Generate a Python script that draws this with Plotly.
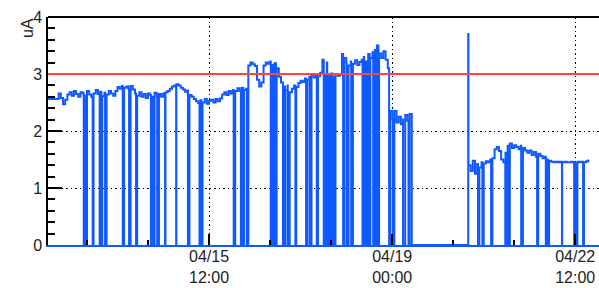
import pandas as pd
import plotly.graph_objects as go

# ---------------- data ----------------
BASE = "2024-04-12 00:00"          # hours below are counted from this time

# hourly current readings, hours 10 .. 258
sample_hours = list(range(10, 259))
current_uA = [
    2.56, 2.56, 2.56, 2.56, 2.56, 2.66, 2.58, 2.47, 2.55, 2.64,   # 10-19
    2.68, 2.62, 2.70, 2.65, 2.60, 2.68, 2.66, 2.62, 2.70, 2.64,   # 20-29
    2.59, 2.66, 2.72, 2.65, 2.69, 2.61, 2.67, 2.64, 2.70, 2.66,   # 30-39
    2.62, 2.70, 2.77, 2.74, 2.79, 2.76, 2.78, 2.74, 2.79, 2.73,   # 40-49
    2.66, 2.62, 2.68, 2.60, 2.65, 2.58, 2.66, 2.63, 2.60, 2.67,   # 50-59
    2.62, 2.65, 2.60, 2.66, 2.68, 2.70, 2.74, 2.78, 2.80, 2.82,   # 60-69
    2.80, 2.76, 2.73, 2.69, 2.71, 2.63, 2.60, 2.56, 2.52, 2.49,   # 70-79
    2.54, 2.50, 2.56, 2.48, 2.53, 2.55, 2.50, 2.56, 2.52, 2.57,   # 80-89
    2.64, 2.68, 2.63, 2.70, 2.66, 2.72, 2.70, 2.75, 2.70, 2.76,   # 90-99
    2.72, 2.74, 3.15, 3.20, 3.17, 3.14, 2.90, 2.78, 2.85, 3.15,   # 100-109
    3.20, 3.18, 3.22, 3.16, 3.19, 3.10, 2.95, 2.85, 2.78, 2.72,   # 110-119
    2.80, 2.68, 2.74, 2.80, 2.77, 2.84, 2.88, 2.86, 2.92, 2.90,   # 120-129
    2.95, 2.99, 2.94, 3.00, 2.96, 3.02, 3.25, 2.98, 3.20, 2.97,   # 130-139
    3.01, 2.95, 3.00, 2.97, 2.99, 3.35, 3.28, 3.20, 3.15, 3.22,   # 140-149
    3.18, 3.24, 3.16, 3.21, 3.25, 3.30, 3.22, 3.35, 3.28, 3.38,   # 150-159
    3.42, 3.50, 3.36, 3.28, 3.40, 3.25, 3.10, 2.35, 2.20, 2.35,   # 160-169
    2.15, 2.25, 2.12, 2.22, 2.28, 2.18, 2.30, 0.00, 0.00, 0.00,   # 170-179
    0.00, 0.00, 0.00, 0.00, 0.00, 0.00, 0.00, 0.00, 0.00, 0.00,   # 180-189
    0.00, 0.00, 0.00, 0.00, 0.00, 0.00, 0.00, 0.00, 0.00, 0.00,   # 190-199
    0.00, 0.00, 0.00, 1.40, 1.30, 1.48, 1.25, 1.42, 1.36, 1.45,   # 200-209
    1.43, 1.47, 1.45, 1.50, 1.52, 1.68, 1.72, 1.65, 1.50, 1.45,   # 210-219
    1.62, 1.74, 1.78, 1.70, 1.75, 1.72, 1.68, 1.74, 1.70, 1.66,   # 220-229
    1.62, 1.66, 1.58, 1.63, 1.55, 1.60, 1.56, 1.52, 1.55, 1.50,   # 230-239
    1.48, 1.46, 1.45, 1.46, 1.45, 1.46, 1.45, 1.46, 1.45, 1.45,   # 240-249
    1.46, 1.45, 1.44, 1.46, 1.45, 1.46, 1.45, 1.47, 1.50,         # 250-258
]

# short isolated spike reading (hours from BASE, uA)
spike_hours = [202.9]
spike_values = [3.70]

# moments where the reading dropped to zero (hours from BASE)
dropout_hours = [
    26.5, 27.8, 30.6, 33.8, 34.6, 36.3, 44.4, 47.3, 50.5, 57.3, 58.9, 60.2,
    63.8, 68.9, 74.3, 79.6, 80.5, 95.3, 98.6, 99.7, 101.3, 112.3, 113.1,
    114.7, 117.9, 118.8, 120.1, 123.6, 128.5, 130.1, 133.4, 136.6, 137.4,
    138.2, 139.8, 140.6, 141.8, 145.5, 147.1, 149.2, 154.4, 155.2, 156.8,
    157.7, 159.3, 160.9, 161.7, 166.6, 168.2, 173.0, 173.9, 175.5,
    207.4, 209.4, 213.4, 219.9, 220.7, 221.5, 227.2, 234.5, 238.5, 239.4,
    245.9, 251.5, 252.3, 255.6,
]
dropout_value = 0.0

limit_uA = 3.0
y_range = [0, 4]
y_ticks = [0, 1, 2, 3, 4]
x_range = ["2024-04-12 10:06", "2024-04-22 22:54"]
x_tick_times = ["2024-04-15 12:00", "2024-04-19 00:00", "2024-04-22 12:00"]
x_tick_labels = ["04/15<br>12:00", "04/19<br>00:00", "04/22<br>12:00"]
y_title = "uA"

# ---------------- build ----------------
pts = [(h, v) for h, v in zip(sample_hours, current_uA)]
pts += [(h, v) for h, v in zip(spike_hours, spike_values)]
pts += [(h, dropout_value) for h in dropout_hours]
pts.sort(key=lambda p: p[0])
base = pd.Timestamp(BASE)
times = [base + pd.Timedelta(hours=h) for h, _ in pts]
vals = [v for _, v in pts]

BLUE = "rgb(16,88,255)"
FONT = "Liberation Sans, Arial, Helvetica, sans-serif"

fig = go.Figure()
fig.add_trace(go.Scatter(x=times, y=vals, mode="lines", line_shape="hv",
                         line=dict(color=BLUE, width=2),
                         hoverinfo="skip", showlegend=False))

fig.update_layout(
    width=599, height=288,
    margin=dict(l=48, r=0, t=17, b=43, autoexpand=False),
    paper_bgcolor="white", plot_bgcolor="white",
    font=dict(family=FONT, color="#222", size=16),
    showlegend=False,
)

fig.update_xaxes(
    type="date", range=x_range, automargin=False,
    tickmode="array", tickvals=x_tick_times, ticktext=x_tick_labels,
    tickfont=dict(size=16), ticklabelstandoff=-4,
    ticks="inside", ticklen=11, tickwidth=1.5, tickcolor="black",
    minor=dict(ticks="inside", ticklen=5, tickwidth=1.5, tickcolor="black",
               dtick=28 * 3600 * 1000, tick0=x_tick_times[0], showgrid=False),
    showgrid=True, gridcolor="black", gridwidth=1, griddash="1.5px,3px",
    showline=True, linecolor=BLUE, linewidth=2, mirror=False,
    zeroline=False,
)
fig.update_yaxes(
    range=y_range, tickmode="array", tickvals=y_ticks, automargin=False,
    tickfont=dict(size=16), ticklabelstandoff=1,
    ticks="inside", ticklen=14, tickwidth=1.5, tickcolor="black",
    minor=dict(ticks="inside", ticklen=7, tickwidth=1.5, tickcolor="black",
               dtick=0.2, showgrid=False),
    showgrid=True, gridcolor="black", gridwidth=1, griddash="1.5px,3px",
    showline=True, linecolor="black", linewidth=1.5, mirror=False,
    zeroline=False,
)

# limit line and top frame
fig.add_hline(y=limit_uA, line=dict(color="#ff4343", width=2), layer="above")
fig.add_shape(type="line", xref="paper", yref="paper", x0=0, x1=1, y0=1, y1=1,
              line=dict(color="black", width=2), layer="above")

fig.add_annotation(text=y_title, xref="paper", yref="paper",
                   x=-0.036, y=0.952, xanchor="center", yanchor="middle",
                   textangle=-90, showarrow=False,
                   font=dict(size=16, color="#222"))

fig.write_html("out.html", config={"displayModeBar": False},
               post_script="document.body.style.margin='0';")
